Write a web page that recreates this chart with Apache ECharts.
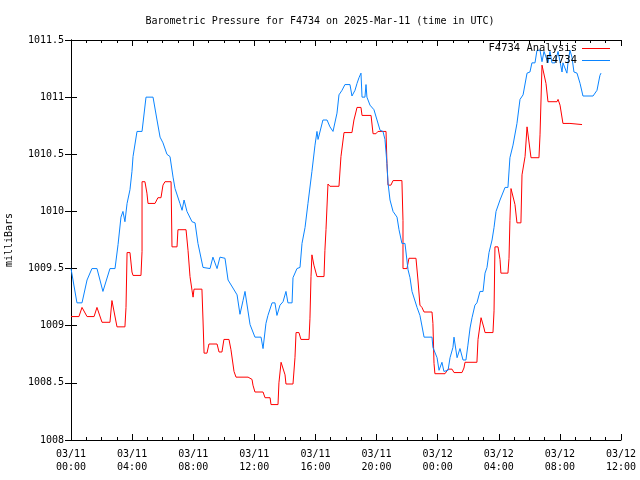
<!DOCTYPE html>
<html>
<head>
<meta charset="utf-8">
<script src="https://cdn.jsdelivr.net/npm/echarts@6/dist/echarts.min.js"></script>
<style>html,body{margin:0;padding:0;background:#fff}#c{width:640px;height:480px}</style>
</head>
<body>
<div id="c"></div>
<script>
// hours since 2025-03-11 00:00 UTC, pressure in mbar
var obsHours = [0,0.39,0.72,1.05,1.37,1.70,2.09,2.55,2.88,3.08,3.27,3.40,3.53,3.67,3.86,3.99,4.06,4.32,4.65,4.91,5.37,5.63,5.83,6.02,6.28,6.48,6.68,6.81,6.94,7.13,7.27,7.40,7.59,7.92,8.12,8.31,8.64,8.77,9.10,9.29,9.56,9.75,10.08,10.28,10.60,10.87,11.06,11.26,11.39,11.72,12.04,12.44,12.57,12.76,12.89,13.16,13.35,13.48,13.68,13.88,14.07,14.20,14.47,14.53,14.79,14.99,15.12,15.32,15.51,15.77,15.97,16.10,16.17,16.49,16.76,16.95,17.15,17.28,17.41,17.54,17.74,17.93,18.26,18.39,18.59,18.72,18.85,18.98,19.05,19.24,19.31,19.37,19.57,19.83,20.03,20.23,20.42,20.55,20.68,20.75,20.88,21.08,21.34,21.47,21.66,21.86,22.06,22.19,22.32,22.45,22.65,22.84,22.97,23.11,23.63,23.69,23.96,24.09,24.28,24.41,24.68,24.81,25.00,25.07,25.27,25.46,25.66,25.85,25.98,26.12,26.25,26.44,26.57,26.77,26.97,27.10,27.23,27.36,27.56,27.69,27.82,28.08,28.41,28.60,28.73,28.93,29.19,29.39,29.59,29.85,30.04,30.17,30.37,30.50,30.70,30.83,30.96,31.09,31.22,31.35,31.48,31.68,31.88,32.14,32.20,32.46,32.53,32.66,32.79,32.92,33.12,33.32,33.51,34.17,34.43,34.62,34.69];
var obsValues = [1009.50,1009.20,1009.20,1009.40,1009.50,1009.50,1009.30,1009.50,1009.50,1009.71,1009.95,1010.00,1009.91,1010.07,1010.19,1010.35,1010.48,1010.70,1010.70,1011.00,1011.00,1010.80,1010.65,1010.60,1010.50,1010.48,1010.30,1010.20,1010.19,1010.07,1010.01,1010.10,1010.00,1009.91,1009.90,1009.72,1009.51,1009.50,1009.50,1009.60,1009.50,1009.60,1009.59,1009.40,1009.33,1009.27,1009.10,1009.22,1009.30,1009.01,1008.90,1008.90,1008.80,1009.02,1009.09,1009.20,1009.20,1009.09,1009.18,1009.21,1009.30,1009.20,1009.20,1009.42,1009.50,1009.51,1009.72,1009.86,1010.07,1010.35,1010.58,1010.70,1010.63,1010.80,1010.80,1010.74,1010.70,1010.70,1010.86,1011.02,1011.06,1011.11,1011.11,1011.01,1011.06,1011.12,1011.17,1011.21,1011.00,1011.00,1011.11,1011.00,1010.93,1010.89,1010.80,1010.71,1010.70,1010.63,1010.42,1010.25,1010.10,1010.00,1009.95,1009.84,1009.72,1009.72,1009.49,1009.42,1009.30,1009.30,1009.16,1009.09,1009.08,1008.90,1008.90,1008.81,1008.72,1008.61,1008.68,1008.60,1008.61,1008.72,1008.81,1008.90,1008.72,1008.80,1008.70,1008.70,1008.83,1008.98,1009.07,1009.18,1009.20,1009.30,1009.30,1009.46,1009.51,1009.64,1009.75,1009.86,1010.00,1010.10,1010.21,1010.21,1010.47,1010.58,1010.77,1010.98,1011.02,1011.21,1011.22,1011.30,1011.30,1011.41,1011.41,1011.31,1011.40,1011.40,1011.30,1011.40,1011.30,1011.30,1011.40,1011.22,1011.30,1011.21,1011.30,1011.41,1011.35,1011.22,1011.21,1011.12,1011.01,1011.01,1011.06,1011.19,1011.21];

var anaHours = [0,0.52,0.72,0.85,1.05,1.51,1.70,1.83,2.03,2.55,2.68,2.81,3.01,3.53,3.60,3.67,3.86,3.99,4.06,4.58,4.65,4.65,4.84,4.97,5.04,5.50,5.69,5.89,6.02,6.15,6.55,6.61,6.94,7.00,7.53,7.66,7.79,7.92,7.99,8.05,8.57,8.64,8.71,8.90,9.03,9.56,9.69,9.88,10.01,10.34,10.47,10.67,10.80,11.59,11.85,11.91,12.04,12.57,12.70,13.03,13.09,13.55,13.61,13.75,13.88,14.01,14.07,14.53,14.66,14.73,14.92,15.05,15.58,15.64,15.71,15.77,15.90,16.10,16.56,16.62,16.69,16.82,16.95,17.54,17.67,17.87,18.39,18.52,18.65,18.72,18.98,19.05,19.64,19.77,19.96,20.09,20.62,20.68,20.75,20.94,21.08,21.66,21.73,21.73,21.99,22.12,22.58,22.71,22.84,22.97,23.11,23.63,23.69,23.76,23.82,24.48,24.68,24.94,25.07,25.59,25.72,25.79,26.57,26.64,26.84,26.90,27.03,27.10,27.62,27.69,27.75,27.95,28.08,28.14,28.60,28.67,28.73,28.80,28.93,29.06,29.19,29.45,29.52,29.72,29.85,29.91,30.11,30.63,30.70,30.83,30.96,31.09,31.22,31.81,31.88,32.01,32.20,32.66,32.79,33.45];
var anaValues = [1009.08,1009.08,1009.16,1009.16,1009.08,1009.08,1009.16,1009.16,1009.03,1009.03,1009.22,1009.22,1008.99,1008.99,1009.16,1009.64,1009.64,1009.47,1009.44,1009.44,1009.65,1010.26,1010.26,1010.16,1010.07,1010.07,1010.12,1010.12,1010.23,1010.26,1010.26,1009.69,1009.69,1009.84,1009.84,1009.66,1009.43,1009.31,1009.25,1009.32,1009.32,1009.05,1008.76,1008.76,1008.84,1008.84,1008.77,1008.77,1008.88,1008.88,1008.79,1008.60,1008.55,1008.55,1008.53,1008.48,1008.42,1008.42,1008.37,1008.37,1008.31,1008.31,1008.50,1008.68,1008.68,1008.57,1008.49,1008.49,1008.72,1008.94,1008.94,1008.88,1008.88,1009.06,1009.43,1009.62,1009.53,1009.43,1009.43,1009.66,1009.84,1010.24,1010.22,1010.22,1010.48,1010.69,1010.69,1010.80,1010.87,1010.91,1010.91,1010.84,1010.84,1010.68,1010.68,1010.70,1010.70,1010.42,1010.23,1010.23,1010.27,1010.27,1009.92,1009.50,1009.50,1009.59,1009.59,1009.40,1009.18,1009.16,1009.12,1009.12,1009.02,1008.67,1008.58,1008.58,1008.62,1008.62,1008.59,1008.59,1008.63,1008.68,1008.68,1008.88,1009.07,1009.07,1008.98,1008.94,1008.94,1009.13,1009.69,1009.69,1009.58,1009.46,1009.46,1009.59,1009.92,1010.20,1010.20,1010.06,1009.90,1009.90,1010.32,1010.48,1010.74,1010.74,1010.47,1010.47,1010.67,1011.28,1011.28,1011.12,1010.96,1010.96,1010.98,1010.93,1010.77,1010.77,1010.76,1010.76];

var xTickLabels = ['03/11\n00:00','03/11\n04:00','03/11\n08:00','03/11\n12:00','03/11\n16:00','03/11\n20:00','03/12\n00:00','03/12\n04:00','03/12\n08:00','03/12\n12:00'];
var seriesNames = ['F4734 Analysis', 'F4734'];
var titleText = 'Barometric Pressure for F4734 on 2025-Mar-11 (time in UTC)';

function zip(a, b) { return a.map(function (v, i) { return [v, b[i]]; }); }

var FONT = 'DejaVu Sans Mono';
var chart = echarts.init(document.getElementById('c'), null, { renderer: 'canvas' });
var baseX = {
  type: 'value', min: 0, max: 36, interval: 4,
  axisLine: { show: true, lineStyle: { color: '#000', width: 1 } },
  axisTick: { show: true, inside: true, length: 6, lineStyle: { color: '#000' } },
  minorTick: { show: true, splitNumber: 4, length: 3, lineStyle: { color: '#000' } },
  splitLine: { show: false }
};
var baseY = {
  type: 'value', min: 1008, max: 1011.5, interval: 0.5,
  axisLine: { show: true, lineStyle: { color: '#000', width: 1 } },
  axisTick: { show: true, inside: true, length: 6, lineStyle: { color: '#000' } },
  splitLine: { show: false }
};
chart.setOption({
  animation: false,
  backgroundColor: '#fff',
  title: {
    text: titleText, left: 'center', top: 11,
    textStyle: { fontFamily: FONT, fontSize: 10, fontWeight: 'normal', color: '#000' }
  },
  legend: {
    data: seriesNames, orient: 'vertical', right: 30, top: 43,
    align: 'right', itemGap: 1, itemWidth: 28, itemHeight: 12,
    icon: 'path://M0,5.5L28,5.5L28,6.5L0,6.5Z',
    textStyle: { fontFamily: FONT, fontSize: 10.5, color: '#000', padding: [0, 0, 0, 0] },
    padding: 0
  },
  grid: { left: 71, right: 19, top: 40, bottom: 40, containLabel: false, outerBoundsMode: 'none' },
  xAxis: [
    Object.assign({}, baseX, {
      position: 'bottom',
      axisLabel: {
        fontFamily: FONT, fontSize: 10, color: '#000', margin: 8, lineHeight: 13,
        formatter: function (v) { return xTickLabels[Math.round(v / 4)] || ''; }
      }
    }),
    Object.assign({}, baseX, { position: 'top', axisLabel: { show: false } })
  ],
  yAxis: [
    Object.assign({}, baseY, {
      position: 'left',
      name: 'milliBars', nameLocation: 'middle', nameGap: 57, nameRotate: 90,
      nameTextStyle: { fontFamily: FONT, fontSize: 10, color: '#000' },
      axisLabel: { fontFamily: FONT, fontSize: 10, color: '#000', margin: 7,
        formatter: function (v) { return String(v); } }
    }),
    Object.assign({}, baseY, { position: 'right', axisLabel: { show: false } })
  ],
  series: [
    {
      name: seriesNames[0], type: 'line', data: zip(anaHours, anaValues),
      symbol: 'none', color: '#ff0000', lineStyle: { color: '#ff0000', width: 1 },
      xAxisIndex: 0, yAxisIndex: 0, z: 2
    },
    {
      name: seriesNames[1], type: 'line', data: zip(obsHours, obsValues),
      symbol: 'none', color: '#0a84ff', lineStyle: { color: '#0a84ff', width: 1 },
      xAxisIndex: 0, yAxisIndex: 0, z: 3
    }
  ]
});
</script>
</body>
</html>
